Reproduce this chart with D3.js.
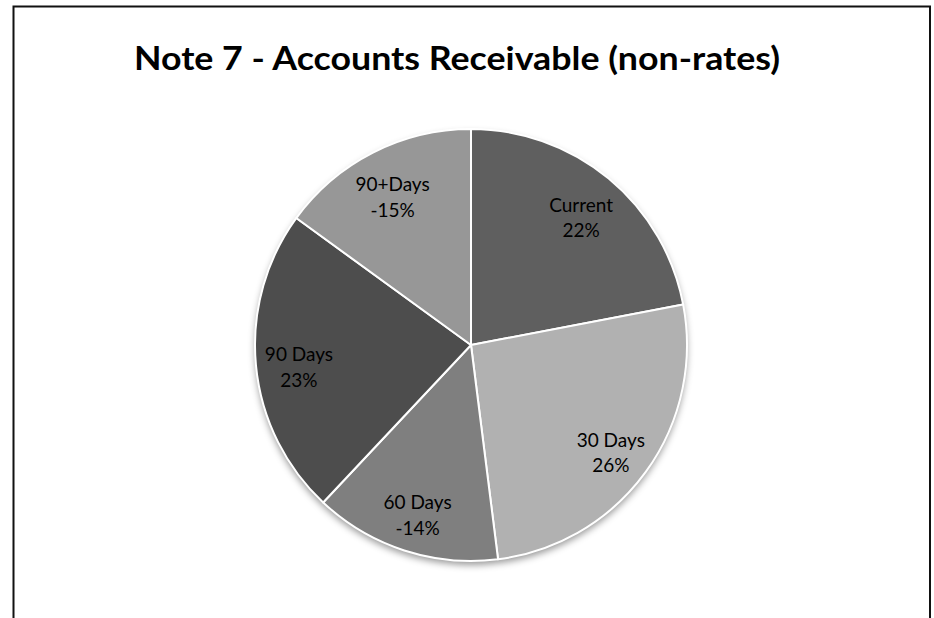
<!DOCTYPE html>
<html>
<head>
<meta charset="utf-8">
<script src="https://cdn.jsdelivr.net/npm/d3@7"></script>
<style>
  body { margin: 0; background: #fff; }
  svg { display: block; }
</style>
</head>
<body>
<div id="chart"></div>
<script>
// chart values
const categories = ['Current', '30 Days', '60 Days', '90 Days', '90+Days'];
const shares = [22, 26, -14, 23, -15];
const sliceColors = ['#5f5f5f', '#b1b1b1', '#7f7f7f', '#4d4d4d', '#979797'];
const chartTitle = 'Note 7 - Accounts Receivable (non-rates)';

const width = 934;
const height = 618;

const svg = d3.select('#chart').append('svg')
    .attr('width', width)
    .attr('height', height);

// soft shadow under the pie
const defs = svg.append('defs');
const shadow = defs.append('filter')
    .attr('id', 'pieShadow')
    .attr('x', '-20%').attr('y', '-20%')
    .attr('width', '140%').attr('height', '140%');
shadow.append('feDropShadow')
    .attr('dx', 0)
    .attr('dy', 4)
    .attr('stdDeviation', 3.5)
    .attr('flood-color', '#000')
    .attr('flood-opacity', 0.4);

// outer frame (bottom edge runs off the page)
svg.append('rect')
    .attr('x', 13.5)
    .attr('y', 6.5)
    .attr('width', 916.5)
    .attr('height', 640)
    .attr('fill', 'none')
    .attr('stroke', '#111')
    .attr('stroke-width', 2);

svg.append('text')
    .attr('x', 134)
    .attr('y', 70)
    .attr('font-family', 'Lato, "Open Sans", sans-serif')
    .attr('font-weight', 'bold')
    .attr('font-size', 32)
    .attr('textLength', 646)
    .attr('lengthAdjust', 'spacingAndGlyphs')
    .attr('fill', '#000')
    .text(chartTitle);

const data = categories.map((c, i) => ({ name: c, value: shares[i], color: sliceColors[i] }));

const cx = 471, cy = 345, radius = 216;

// slices sized by absolute value, labelled with the signed value
const pie = d3.pie()
    .sort(null)
    .value(d => Math.abs(d.value));

const arc = d3.arc().innerRadius(0).outerRadius(radius);
const labelArc = d3.arc().innerRadius(radius * 0.8).outerRadius(radius * 0.8);

const g = svg.append('g')
    .attr('transform', `translate(${cx},${cy})`);

g.append('circle')
    .attr('r', radius)
    .attr('fill', '#888')
    .attr('filter', 'url(#pieShadow)');

g.selectAll('path.slice')
    .data(pie(data))
    .join('path')
    .attr('class', 'slice')
    .attr('d', arc)
    .attr('fill', d => d.data.color)
    .attr('stroke', '#fff')
    .attr('stroke-width', 2)
    .attr('stroke-linejoin', 'round');

const labels = g.selectAll('text.label')
    .data(pie(data))
    .join('text')
    .attr('class', 'label')
    .attr('transform', d => `translate(${labelArc.centroid(d)})`)
    .attr('text-anchor', 'middle')
    .attr('font-family', 'Lato, "Open Sans", sans-serif')
    .attr('font-size', 19)
    .attr('fill', '#000');

labels.append('tspan')
    .attr('x', 0)
    .attr('dy', '0em')
    .text(d => d.data.name);

labels.append('tspan')
    .attr('x', 0)
    .attr('dy', '1.35em')
    .text(d => `${d.data.value}%`);
</script>
</body>
</html>
